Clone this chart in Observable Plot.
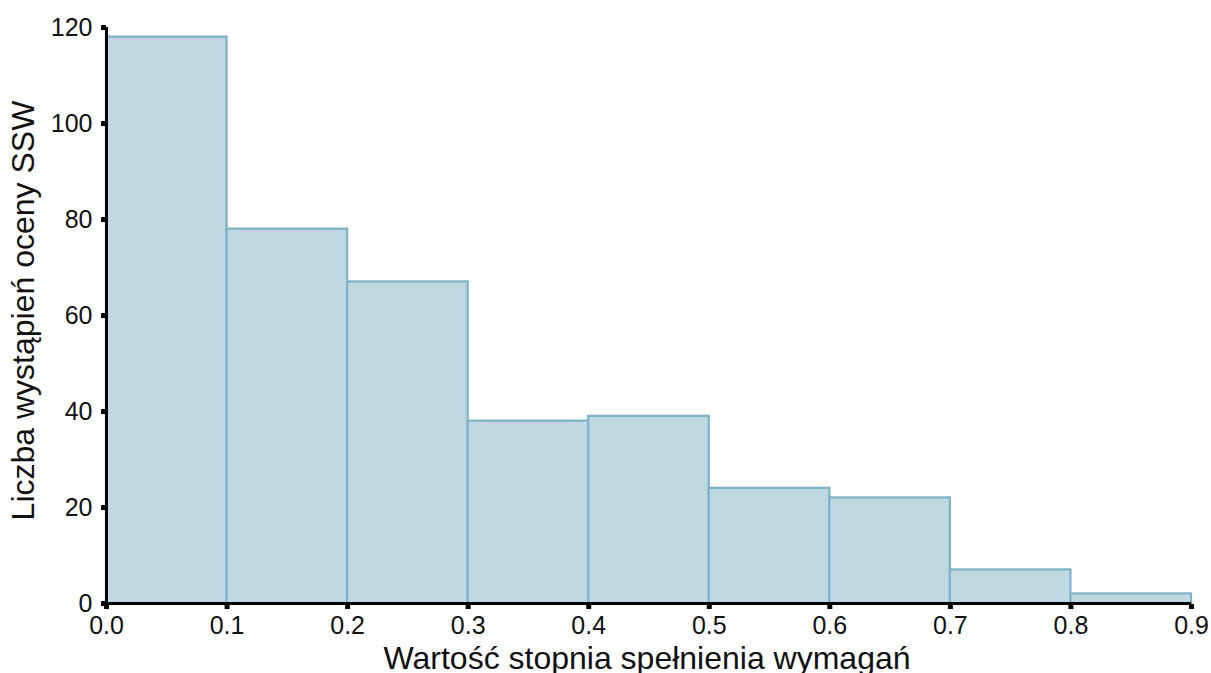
<!DOCTYPE html>
<html>
<head>
<meta charset="utf-8">
<script src="https://cdn.jsdelivr.net/npm/d3@7"></script>
<script src="https://cdn.jsdelivr.net/npm/@observablehq/plot@0.6"></script>
<style>
  body { margin: 0; background: #fff; overflow: hidden; }
  #chart svg { overflow: visible; }
</style>
</head>
<body>
<div id="chart"></div>
<script>
const binStarts = [0.0, 0.1, 0.2, 0.3, 0.4, 0.5, 0.6, 0.7, 0.8];
const binWidth = 0.1;
const counts = [118, 78, 67, 38, 39, 24, 22, 7, 2];
const xTicks = [0.0, 0.1, 0.2, 0.3, 0.4, 0.5, 0.6, 0.7, 0.8, 0.9];
const yTicks = [0, 20, 40, 60, 80, 100, 120];
const xLabel = "Wartość stopnia spełnienia wymagań";
const yLabel = "Liczba wystąpień oceny SSW";

const bins = binStarts.map((s, i) => ({x1: s, x2: s + binWidth, count: counts[i]}));

const chart = Plot.plot({
  width: 1211,
  height: 673,
  marginLeft: 106,
  marginRight: 20,
  marginTop: 27,
  marginBottom: 70,
  style: {fontFamily: "'Liberation Sans', Arial, sans-serif", fontSize: "25px", color: "#111", background: "white"},
  x: {domain: [0, 0.9], ticks: xTicks, tickFormat: d3.format(".1f"), tickSize: 0, tickPadding: 13, label: null},
  y: {domain: [0, 120], ticks: yTicks, tickSize: 0, tickPadding: 14, label: null},
  marks: [
    Plot.rectY(bins, {x1: "x1", x2: "x2", y: "count", fill: "#bfd8e1", stroke: "#7db3c9", strokeWidth: 2.2}),
    Plot.ruleX([0], {y1: 0, y2: 120, stroke: "black", strokeWidth: 3}),
    Plot.ruleY([0], {x1: 0, x2: 0.9, stroke: "black", strokeWidth: 3}),
    Plot.dot(xTicks, {x: d => d, y: 0, symbol: "square", r: 2.8, dy: 3, fill: "black", stroke: "none"}),
    Plot.dot(yTicks, {x: 0, y: d => d, symbol: "square", r: 2.8, dx: -3, fill: "black", stroke: "none"}),
    Plot.text([xLabel], {frameAnchor: "bottom", text: d => d, dy: 55, dx: -2, fontSize: 32, fill: "#111", lineAnchor: "middle", textAnchor: "middle"}),
    Plot.text([yLabel], {frameAnchor: "left", text: d => d, rotate: -90, dx: -83, dy: -5, fontSize: 32, fill: "#111", lineAnchor: "middle", textAnchor: "middle"})
  ]
});
document.getElementById("chart").appendChild(chart);
</script>
</body>
</html>
